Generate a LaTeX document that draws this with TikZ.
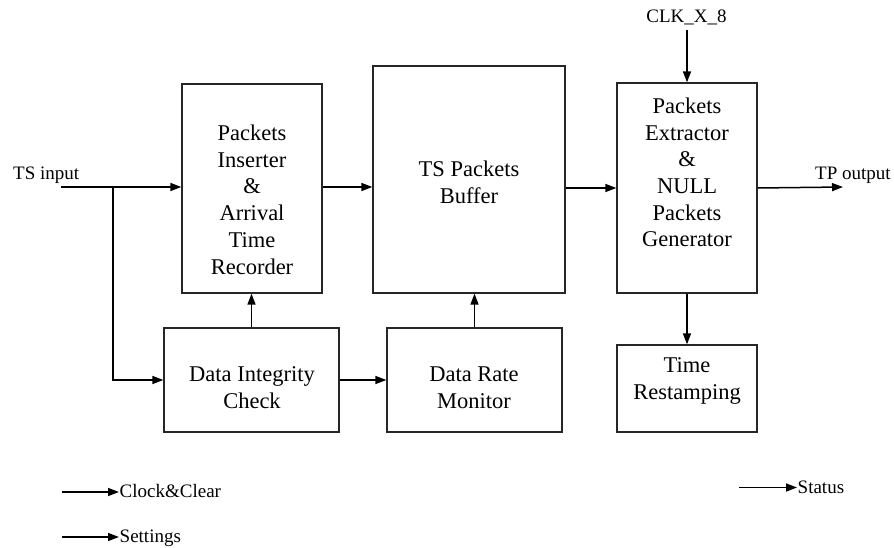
\documentclass[tikz,border=0pt]{standalone}
\usepackage{fontspec}
\setmainfont{Liberation Serif}
\usetikzlibrary{arrows.meta}
\newcommand\bigtxt{\fontsize{22.5}{26.7}\selectfont}
\newcommand\smalltxt{\fontsize{19}{22}\selectfont}
\begin{document}
\begin{tikzpicture}[x=1pt,y=-1pt,
  box/.style={draw=black!85,line width=1.3pt,rectangle,inner sep=0pt},
  txt/.style={inner sep=0pt,align=center,anchor=north,font=\bigtxt},
  lbl/.style={inner sep=0pt,font=\smalltxt},
  arr/.style={line width=1.5pt,-{Triangle[length=11pt,width=8pt]}}]
\useasboundingbox (0,0) rectangle (894,548);
% boxes
\node[box,minimum width=140pt,minimum height=209pt] (ins) at (252,188.5) {};
\node[box,minimum width=192pt,minimum height=227pt] (buf) at (469,179.5) {};
\node[box,minimum width=140pt,minimum height=210pt] (ext) at (687,188) {};
\node[box,minimum width=175pt,minimum height=104pt] (dic) at (251.5,380) {};
\node[box,minimum width=175pt,minimum height=104pt] (drm) at (474.5,380) {};
\node[box,minimum width=140pt,minimum height=87pt] (trs) at (687,388.5) {};
% texts
\node[txt] (inst) at (252,124.7) {Packets\\Inserter\\\&\\Arrival\\Time\\Recorder};
\node[txt] (buft) at (469,160.6) {TS Packets\\Buffer};
\node[txt] (extt) at (687,97.6) {Packets\\Extractor\\\&\\NULL\\Packets\\Generator};
\node[txt] (dict) at (252,366.8) {Data Integrity\\Check};
\node[txt] (drmt) at (474,366.8) {Data Rate\\Monitor};
\node[txt] (trst) at (687,357.6) {Time\\Restamping};
% external labels
\node[lbl,anchor=base west] (tsin) at (13,180) {TS input};
\node[lbl,anchor=base west] (tpout) at (815,180) {TP output};
\node[lbl,anchor=base] (clk) at (686.5,23) {CLK\_X\_8};
\coordinate (tsstart) at (61,187);
\coordinate (br) at (113,187);
\coordinate (tpend) at (843,187);
\coordinate (clkstart) at (687,30);
% connectors
\draw[arr] (tsstart) -- (ins.west |- tsstart);
\draw[arr] (br) |- (dic.west);
\draw[arr] (ins.east |- tsstart) -- (buf.west |- tsstart);
\draw[arr] (buf.east |- ext.west) -- (ext.west);
\draw[arr] (ext.east) -- (tpend);
\draw[arr] (clkstart) -- (ext.north);
\draw[arr] (dic.north) -- (dic.north |- ins.south);
\draw[arr] (dic.east) -- (drm.west);
\draw[arr] (drm.north) -- (drm.north |- buf.south);
\draw[arr] (ext.south) -- (trs.north);
% legend
\coordinate (l1a) at (62,492);
\coordinate (l1b) at (119,492);
\coordinate (l2a) at (62,537);
\coordinate (l2b) at (119,537);
\coordinate (l3a) at (739,487.5);
\coordinate (l3b) at (797,487.5);
\draw[arr] (l1a) -- (l1b);
\draw[arr] (l2a) -- (l2b);
\draw[arr] (l3a) -- (l3b);
\node[lbl,anchor=base west] (lg1) at (119.5,497) {Clock\&Clear};
\node[lbl,anchor=base west] (lg2) at (119.5,542) {Settings};
\node[lbl,anchor=base west] (lg3) at (797.5,493) {Status};
\end{tikzpicture}
\end{document}
